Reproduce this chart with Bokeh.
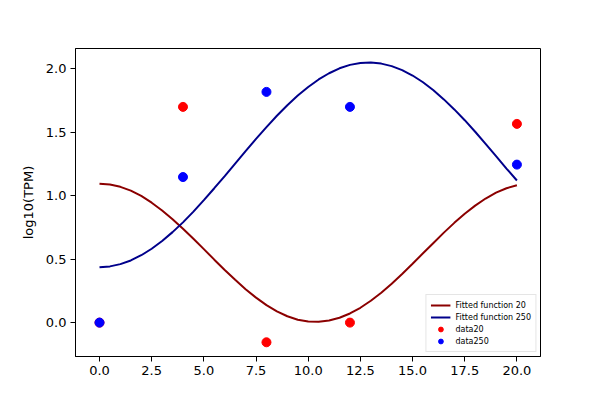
from bokeh.plotting import figure
from bokeh.models import Range1d, FixedTicker, PrintfTickFormatter, Legend, LegendItem
from bokeh.embed import file_html
from bokeh.resources import INLINE

# sample times of the data points
time_points = [0, 4, 8, 12, 20]
data20 = [0.0, 1.70, -0.155, 0.0, 1.566]
data250 = [0.0, 1.147, 1.818, 1.70, 1.245]

# fitted curves, every 0.5 time units
fit_x = [0.0, 0.5, 1.0, 1.5, 2.0, 2.5, 3.0, 3.5, 4.0, 4.5, 5.0, 5.5, 6.0, 6.5, 7.0,
         7.5, 8.0, 8.5, 9.0, 9.5, 10.0, 10.5, 11.0, 11.5, 12.0, 12.5, 13.0, 13.5,
         14.0, 14.5, 15.0, 15.5, 16.0, 16.5, 17.0, 17.5, 18.0, 18.5, 19.0, 19.5, 20.0]
fit20 = [1.095, 1.089, 1.070, 1.040, 0.998, 0.945, 0.884, 0.815, 0.740, 0.661, 0.579,
         0.496, 0.415, 0.337, 0.263, 0.197, 0.138, 0.089, 0.050, 0.023, 0.008, 0.006,
         0.016, 0.038, 0.072, 0.117, 0.172, 0.236, 0.307, 0.383, 0.464, 0.546, 0.628,
         0.709, 0.786, 0.858, 0.922, 0.978, 1.024, 1.059, 1.083]
fit250 = [0.437, 0.443, 0.461, 0.490, 0.531, 0.582, 0.643, 0.713, 0.790, 0.875, 0.965,
          1.059, 1.155, 1.253, 1.351, 1.448, 1.541, 1.630, 1.713, 1.789, 1.857, 1.916,
          1.965, 2.004, 2.031, 2.046, 2.050, 2.041, 2.021, 1.990, 1.947, 1.894, 1.831,
          1.759, 1.680, 1.595, 1.504, 1.409, 1.312, 1.214, 1.120]

x_ticks = [0, 2.5, 5, 7.5, 10, 12.5, 15, 17.5, 20]
y_ticks = [0, 0.5, 1.0, 1.5, 2.0]

FONT = "DejaVu Sans"

p = figure(width=584, height=384, output_backend="svg", toolbar_location=None,
           x_range=Range1d(-1.15, 21.13), y_range=Range1d(-0.267, 2.16),
           min_border_left=75, min_border_right=44, min_border_top=48, min_border_bottom=28)

p.xgrid.visible = False
p.ygrid.visible = False
p.outline_line_color = "black"
p.outline_line_width = 1
p.background_fill_color = "white"
p.border_fill_color = "white"

for ax in (p.xaxis[0], p.yaxis[0]):
    ax.major_tick_out = 5
    ax.major_tick_in = 0
    ax.minor_tick_out = 0
    ax.minor_tick_in = 0
    ax.major_label_text_font = FONT
    ax.major_label_text_font_size = "13px"
    ax.major_label_text_color = "black"
    ax.axis_line_color = "black"
    ax.major_tick_line_color = "black"
    ax.major_label_standoff = 4
    ax.formatter = PrintfTickFormatter(format="%.1f")

p.xaxis[0].ticker = FixedTicker(ticks=x_ticks)
p.yaxis[0].ticker = FixedTicker(ticks=y_ticks)
p.yaxis[0].axis_label = "log10(TPM)"
p.yaxis[0].axis_label_text_font = FONT
p.yaxis[0].axis_label_text_font_size = "13px"
p.yaxis[0].axis_label_text_font_style = "normal"
p.yaxis[0].axis_label_text_color = "black"
p.yaxis[0].axis_label_standoff = 7

l20 = p.line(fit_x, fit20, line_color="#8b0000", line_width=2)
l250 = p.line(fit_x, fit250, line_color="#00008b", line_width=2)
s20 = p.scatter(time_points, data20, size=9, fill_color="#ff0000", line_color="#ff0000")
s250 = p.scatter(time_points, data250, size=9, fill_color="#0000ff", line_color="#0000ff")

legend = Legend(items=[
    LegendItem(label="Fitted function 20", renderers=[l20]),
    LegendItem(label="Fitted function 250", renderers=[l250]),
    LegendItem(label="data20", renderers=[s20]),
    LegendItem(label="data250", renderers=[s250]),
], location="bottom_right")
legend.label_text_font = FONT
legend.label_text_font_size = "8px"
legend.label_text_color = "black"
legend.label_height = 12
legend.glyph_height = 12
legend.glyph_width = 20
legend.spacing = 0
legend.padding = 4
legend.margin = 4
legend.label_standoff = 5
legend.border_line_color = "#cccccc"
legend.border_line_width = 1
legend.background_fill_alpha = 0.8
p.add_layout(legend)

open("out.html", "w").write(file_html(p, INLINE))
